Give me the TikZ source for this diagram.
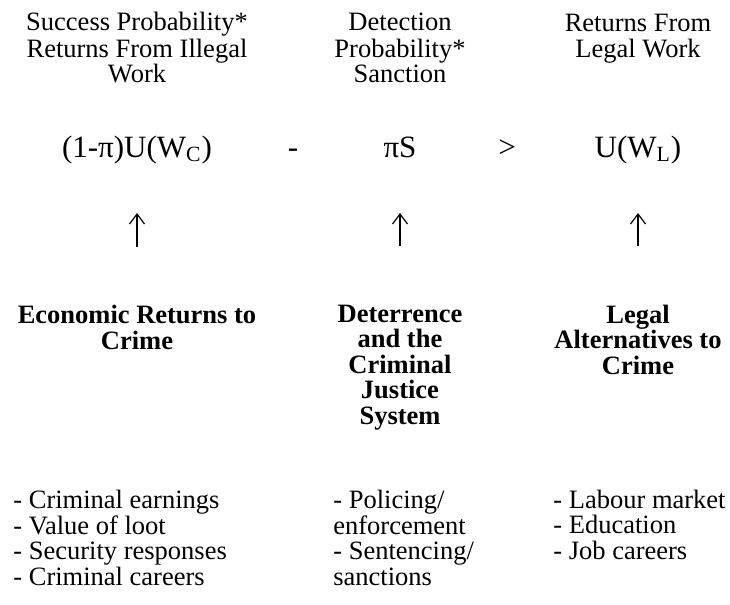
\documentclass[tikz,border=0pt]{standalone}
\usepackage{fontspec}
\setmainfont{Liberation Serif}
\usetikzlibrary{arrows.meta}

\tikzset{
  caption/.style={align=center, inner sep=0pt, anchor=base, font=\fontsize{13.25}{13}\selectfont},
  term/.style={inner sep=0pt, anchor=base, font=\fontsize{15.5}{16}\selectfont},
  factor/.style={align=center, inner sep=0pt, anchor=base, font=\fontsize{13.25}{12.75}\selectfont\bfseries},
  items/.style={align=left, inner sep=0pt, anchor=base west, font=\fontsize{13.25}{12.75}\selectfont},
  uparrow/.style={-{Straight Barb[length=5pt,width=7.5pt]}, line width=0.6pt},
}

\begin{document}
\begin{tikzpicture}[x=0.5pt, y=-0.5pt]
\useasboundingbox (0,0) rectangle (730,605);
% what each term stands for (placed at last line)
\node[caption] (capA) at (137,83) {Success Probability*\\Returns From Illegal\\Work};
\node[caption] (capB) at (400,83) {Detection\\Probability*\\Sanction};
\node[caption] (capC) at (638,57) {Returns From\\Legal Work};
% the inequality
\node[term] (termA) at (137,157) {(1-π)U(W\textsubscript{C})};
\node[term] (minus) at (293,157) {-};
\node[term] (termB) at (400,157) {πS};
\node[term] (gt) at (507,157) {>};
\node[term] (termC) at (638,157) {U(W\textsubscript{L})};
% factors behind the terms
\node[factor] (factA) at (137,349) {Economic Returns to\\Crime};
\node[factor] (factB) at (400,424) {Deterrence\\and the\\Criminal\\Justice\\System};
\node[factor] (factC) at (638,374) {Legal\\Alternatives to\\Crime};
% lists
\node[items] (listA) at (13,585) {- Criminal earnings\\- Value of loot\\- Security responses\\- Criminal careers};
\node[items] (listB) at (333,585) {- Policing/\\enforcement\\- Sentencing/\\sanctions};
\node[items] (listC) at (553,559) {- Labour market\\- Education\\- Job careers};
% arrows up to the terms
\foreach \f/\t in {factA/termA, factB/termB, factC/termC}
  \draw[uparrow, shorten <=29pt, shorten >=28pt] (\f.north) -- (\f.north |- \t.base);
\end{tikzpicture}
\end{document}
